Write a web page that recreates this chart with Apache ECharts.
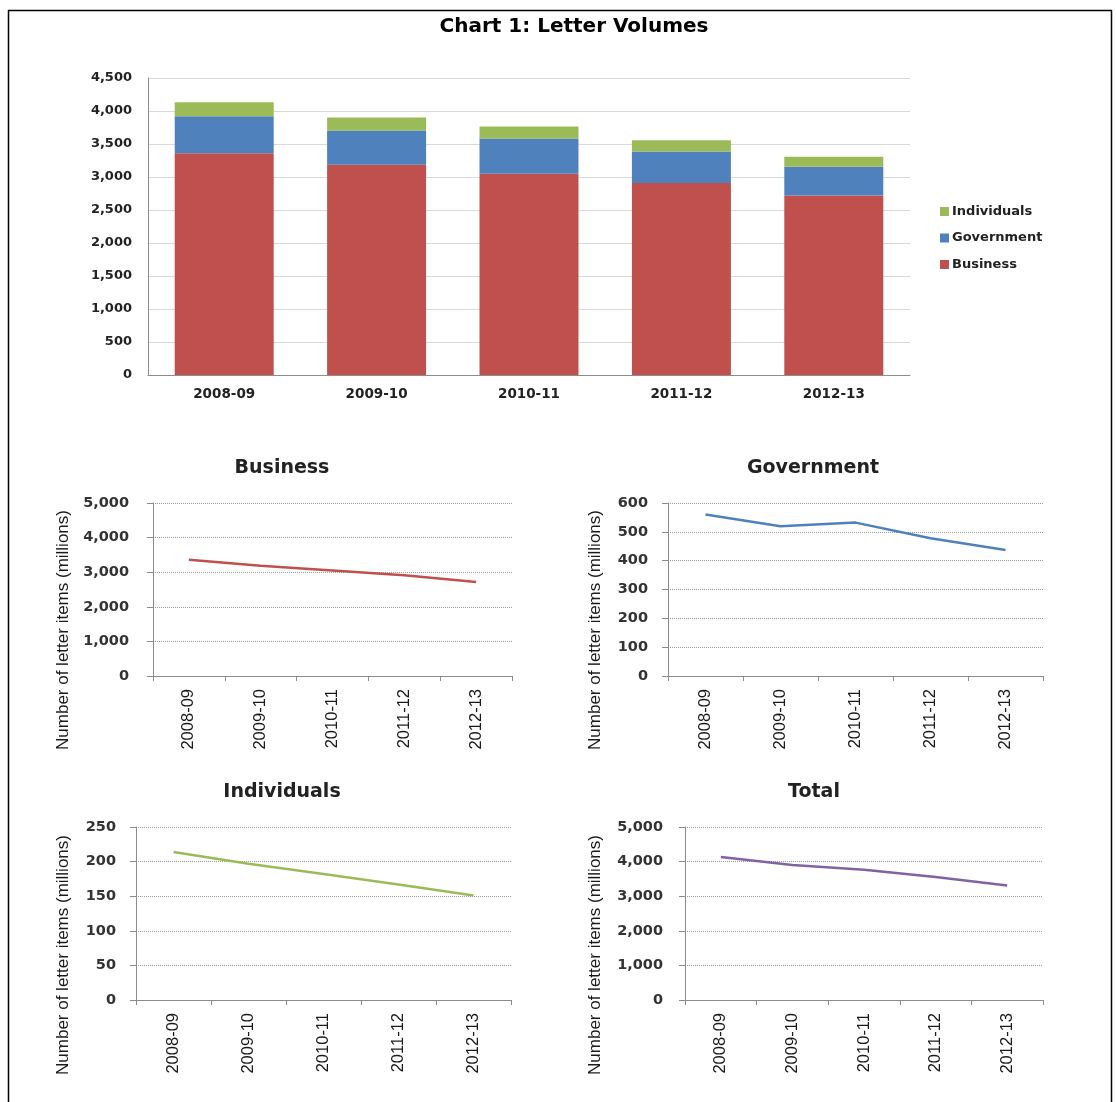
<!DOCTYPE html>
<html><head><meta charset="utf-8">
<script src="https://cdn.jsdelivr.net/npm/echarts@6/dist/echarts.min.js"></script>
<style>html,body{margin:0;padding:0;background:#fff}#c{width:1116px;height:1102px}</style>
</head><body><div id="c"></div>
<script>
const categories = ['2008-09','2009-10','2010-11','2011-12','2012-13'];
const business = [3360, 3185, 3050, 2910, 2720];
const government = [560, 519, 532, 478, 437];
const individuals = [214, 197, 182, 167, 151];
const total = [4134, 3900, 3764, 3555, 3308];
const mainTicks = {min:0, max:4500, interval:500};
const businessTicks = {min:0, max:5000, interval:1000};
const governmentTicks = {min:0, max:600, interval:100};
const individualsTicks = {min:0, max:250, interval:50};
const totalTicks = {min:0, max:5000, interval:1000};

const RED='#c0504d', BLUE='#4f81bd', GREEN='#9bbb59', PURPLE='#8064a2';
const fmt = v => v.toLocaleString('en-US');
const axisGray = '#8c8c8c';

const grids = [
  {left:148, top:78, width:762, height:297},
  {left:153, top:503, width:359, height:173},
  {left:668, top:503, width:375, height:173},
  {left:136, top:827, width:375, height:173},
  {left:685, top:827, width:358, height:173}
];
const tickSets = [mainTicks, businessTicks, governmentTicks, individualsTicks, totalTicks];

const xAxes = grids.map((g,i)=>({
  type:'category', gridIndex:i, data:categories, boundaryGap:true,
  axisLine:{lineStyle:{color:axisGray, width:1}},
  axisTick:{show:i>0, alignWithLabel:false, length:5, lineStyle:{color:axisGray}},
  axisLabel: i===0 ? {color:'#222', fontFamily:'DejaVu Sans', fontWeight:'bold', fontSize:13.5, margin:12}
    : {color:'#1a1a1a', rotate:90, fontFamily:'"Liberation Sans Narrow","Liberation Sans",sans-serif', fontSize:16.5, margin:13}
}));
const yAxes = grids.map((g,i)=>({
  type:'value', gridIndex:i, min:tickSets[i].min, max:tickSets[i].max, interval:tickSets[i].interval,
  axisLine:{show:true, lineStyle:{color:axisGray, width:1}},
  axisTick:{show:i>0, length:6, lineStyle:{color:axisGray}},
  splitLine:{show:true, lineStyle:{color: i===0 ? '#d9d9d9' : '#9a9a9a', type: i===0 ? 'solid' : 'dotted', width:1}},
  axisLabel: i===0 ? {color:'#222', fontFamily:'DejaVu Sans', fontWeight:'bold', fontSize:13, margin:16, formatter:fmt}
    : {color:'#333', fontFamily:'DejaVu Sans', fontWeight:'bold', fontSize:14.5, margin:i===3?20:i===1?24:i===2?20:22, formatter:fmt}
}));

const subTitle = (text, x, y) => ({text, left:x, top:y, textAlign:'center',
  textStyle:{fontFamily:'DejaVu Sans', fontWeight:'bold', fontSize:19, color:'#222'}});

const axisName = (x, y) => ({type:'text', x, y, rotation:Math.PI/2,
  style:{text:'Number of letter items (millions)', fontFamily:'"Liberation Sans",sans-serif', fontSize:17,
  fill:'#1a1a1a', textAlign:'center', textVerticalAlign:'middle', verticalAlign:'middle'}});

const option = {
  animation:false,
  backgroundColor:'#fff',
  title:[
    {text:'Chart 1: Letter Volumes', left:569, top:12, textAlign:'center',
     textStyle:{fontFamily:'DejaVu Sans', fontWeight:'bold', fontSize:20, color:'#000'}},
    subTitle('Business', 277, 454),
    subTitle('Government', 808, 454),
    subTitle('Individuals', 277, 778),
    subTitle('Total', 809, 778)
  ],
  legend:{orient:'vertical', left:935, top:200, itemWidth:9, itemHeight:9, itemGap:13.5, icon:'rect',
    data:['Individuals','Government','Business'],
    textStyle:{fontFamily:'DejaVu Sans', fontWeight:'bold', fontSize:13, color:'#222', padding:[0,0,0,-2]}},
  grid:grids,
  xAxis:xAxes,
  yAxis:yAxes,
  graphic:[
    {type:'rect', shape:{x:8.5, y:10.5, width:1103, height:1110}, style:{fill:'none', stroke:'#000', lineWidth:1.5}},
    axisName(63, 630), axisName(595, 630), axisName(63, 955), axisName(595, 955)
  ],
  series:[
    {name:'Business', type:'bar', stack:'v', xAxisIndex:0, yAxisIndex:0, data:business, itemStyle:{color:RED}, barWidth:99},
    {name:'Government', type:'bar', stack:'v', xAxisIndex:0, yAxisIndex:0, data:government, itemStyle:{color:BLUE}, barWidth:99},
    {name:'Individuals', type:'bar', stack:'v', xAxisIndex:0, yAxisIndex:0, data:individuals, itemStyle:{color:GREEN}, barWidth:99},
    {name:'BusinessLine', type:'line', xAxisIndex:1, yAxisIndex:1, data:business, symbol:'none', lineStyle:{color:RED, width:2.5}},
    {name:'GovernmentLine', type:'line', xAxisIndex:2, yAxisIndex:2, data:government, symbol:'none', lineStyle:{color:BLUE, width:2.5}},
    {name:'IndividualsLine', type:'line', xAxisIndex:3, yAxisIndex:3, data:individuals, symbol:'none', lineStyle:{color:GREEN, width:2.5}},
    {name:'TotalLine', type:'line', xAxisIndex:4, yAxisIndex:4, data:total, symbol:'none', lineStyle:{color:PURPLE, width:2.5}}
  ]
};
echarts.init(document.getElementById('c')).setOption(option);
</script></body></html>
